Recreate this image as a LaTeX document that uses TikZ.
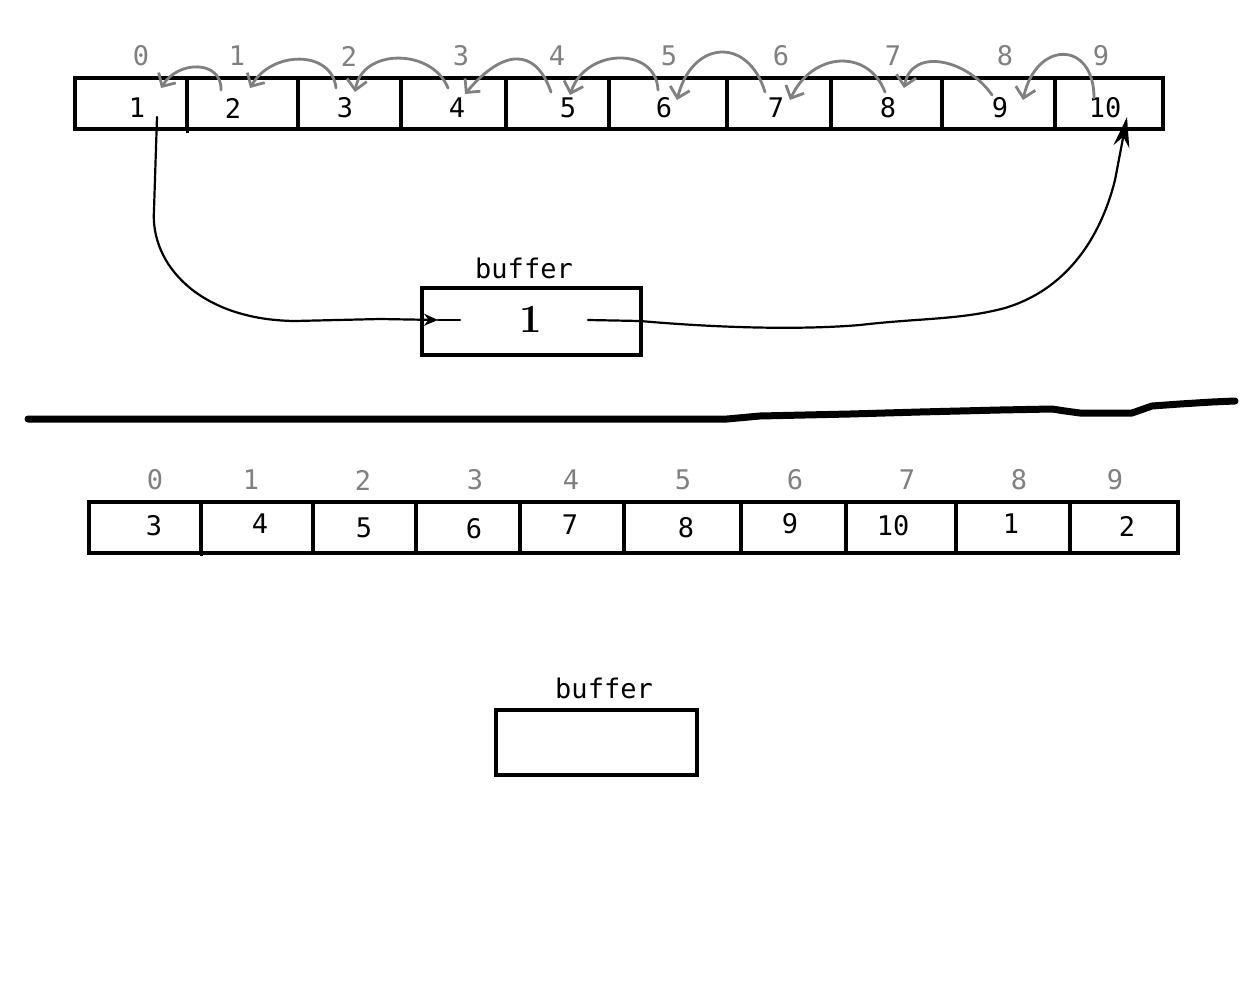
\documentclass[tikz,border=0pt]{standalone}
\usepackage{fontspec}
\newfontfamily\monof{DejaVu Sans Mono}
\usetikzlibrary{arrows.meta}
\definecolor{idxgray}{RGB}{128,128,128}
\begin{document}
\begin{tikzpicture}[x=1pt,y=-1pt,
  cell/.style={draw=black,line width=4pt,inner sep=0pt,outer sep=0pt,minimum height=51pt,anchor=north west},
  val/.style={font=\monof\fontsize{27}{30}\selectfont,inner sep=0pt,text=black},
  idx/.style={font=\monof\fontsize{27}{30}\selectfont,inner sep=0pt,text=idxgray},
  bufbox/.style={draw=black,line width=4pt,inner sep=0pt,outer sep=0pt,anchor=north west},
  shiftarrow/.style={draw=idxgray,line width=2.8pt,line cap=round,-{Straight Barb[length=10pt,width=20pt,line width=2.8pt]}},
  ink/.style={draw=black,line width=2.2pt,line cap=round,line join=round}
]
\useasboundingbox (0,0) rectangle (1260,1006);
\fill[white] (0,0) rectangle (1260,1006);

% ---------- top array ----------
\foreach \a/\b [count=\i] in {75/187,187/298,298/401,401/506,506/609,609/727,727/831,831/942,942/1055,1055/1163}
  \node[cell,minimum width={\b pt-\a pt}] (t\i) at (\a,78) {};
\draw[line width=3pt] (187,125) -- (187,133);
\foreach \x/\v [count=\i] in {137/1,233/2,345/3,457/4,568/5,664/6,776/7,888/8,1000/9,1105/10}
  \node[val] (tv\i) at (\x,108) {\v};
\foreach \x/\v [count=\i] in {141/0,237/1,349/2,461/3,557/4,669/5,781/6,893/7,1005/8,1101/9}
  \node[idx] (ti\i) at (\x,56) {\v};

% gray shift arrows
\coordinate (a1s) at (221,90);  \coordinate (a1e) at (161,88);
\coordinate (a2s) at (336,88);  \coordinate (a2e) at (250,88);
\coordinate (a3s) at (448,88);  \coordinate (a3e) at (355,92);
\coordinate (a4s) at (551,92);  \coordinate (a4e) at (465,94);
\coordinate (a5s) at (658,90);  \coordinate (a5e) at (570,95);
\coordinate (a6s) at (765,92);  \coordinate (a6e) at (677,100);
\coordinate (a7s) at (885,92);  \coordinate (a7e) at (790,100);
\coordinate (a8s) at (992,95);  \coordinate (a8e) at (904,88);
\coordinate (a9s) at (1094,98); \coordinate (a9e) at (1023,100);
\draw[shiftarrow] (a1s) .. controls (222,60) and (178,60) .. (a1e);
\draw[shiftarrow] (a2s) .. controls (332,50) and (272,50) .. (a2e);
\draw[shiftarrow] (a3s) .. controls (432,48) and (362,48) .. (a3e);
\draw[shiftarrow] (a4s) .. controls (535,46) and (502,50) .. (a4e);
\draw[shiftarrow] (a5s) .. controls (656,46) and (585,48) .. (a5e);
\draw[shiftarrow] (a6s) .. controls (748,36) and (692,40) .. (a6e);
\draw[shiftarrow] (a7s) .. controls (868,48) and (812,52) .. (a7e);
\draw[shiftarrow] (a8s) .. controls (968,60) and (912,46) .. (a8e);
\draw[shiftarrow] (a9s) .. controls (1094,40) and (1036,40) .. (a9e);

% ---------- top buffer ----------
\node[bufbox,minimum width=219pt,minimum height=67pt] (buf1) at (422,288) {};
\node[val] (buf1lbl) at (524,268) {buffer};
\node[inner sep=0pt,font=\fontsize{40}{40}\selectfont\bfseries] (buf1v) at (531,319) {1};

\coordinate (c1) at (157,117);
\coordinate (c2) at (438,320);
\coordinate (c3) at (588,320);
\coordinate (c4) at (1127,117);
\draw[ink,-{Stealth[length=14pt,width=12pt]}] (c1) -- (154,210)
  .. controls (150,265) and (200,320) .. (295,321) -- (380,319) -- (c2);
\draw[ink] (c2) -- (460,320);
\draw[ink,-{Stealth[length=30pt,width=16pt]}] (c3) -- (640,321)
  .. controls (720,328) and (800,330) .. (860,325)
  .. controls (920,318) and (960,320) .. (1005,308)
  .. controls (1065,290) and (1100,240) .. (1115,180) -- (c4);

% ---------- divider ----------
\draw[line width=7pt,line cap=round,line join=round] (28,419) -- (727,419)
  -- (760,416) -- (850,414) -- (920,412) -- (1000,410) -- (1052,409)
  -- (1065,411) -- (1080,413) -- (1132,413) -- (1152,406) -- (1180,404)
  -- (1212,402) -- (1235,401);

% ---------- bottom array ----------
\foreach \a/\b [count=\i] in {89/201,201/313,313/416,416/520,520/624,624/741,741/846,846/956,956/1070,1070/1178}
  \node[cell,minimum width={\b pt-\a pt}] (b\i) at (\a,502) {};
\draw[line width=3pt] (201,549) -- (201,556);
\foreach \x/\y/\v [count=\i] in {154/526/3,260/524/4,364/528/5,474/529/6,570/525/7,686/528/8,790/524/9,893/526/10,1011/524/1,1127/526/2}
  \node[val] (bv\i) at (\x,\y) {\v};
\foreach \x/\v [count=\i] in {155/0,251/1,363/2,475/3,571/4,683/5,795/6,907/7,1019/8,1115/9}
  \node[idx] (bi\i) at (\x,480) {\v};

% ---------- bottom buffer ----------
\node[bufbox,minimum width=201pt,minimum height=65pt] (buf2) at (496,710) {};
\node[val] (buf2lbl) at (604,688) {buffer};
\end{tikzpicture}
\end{document}
